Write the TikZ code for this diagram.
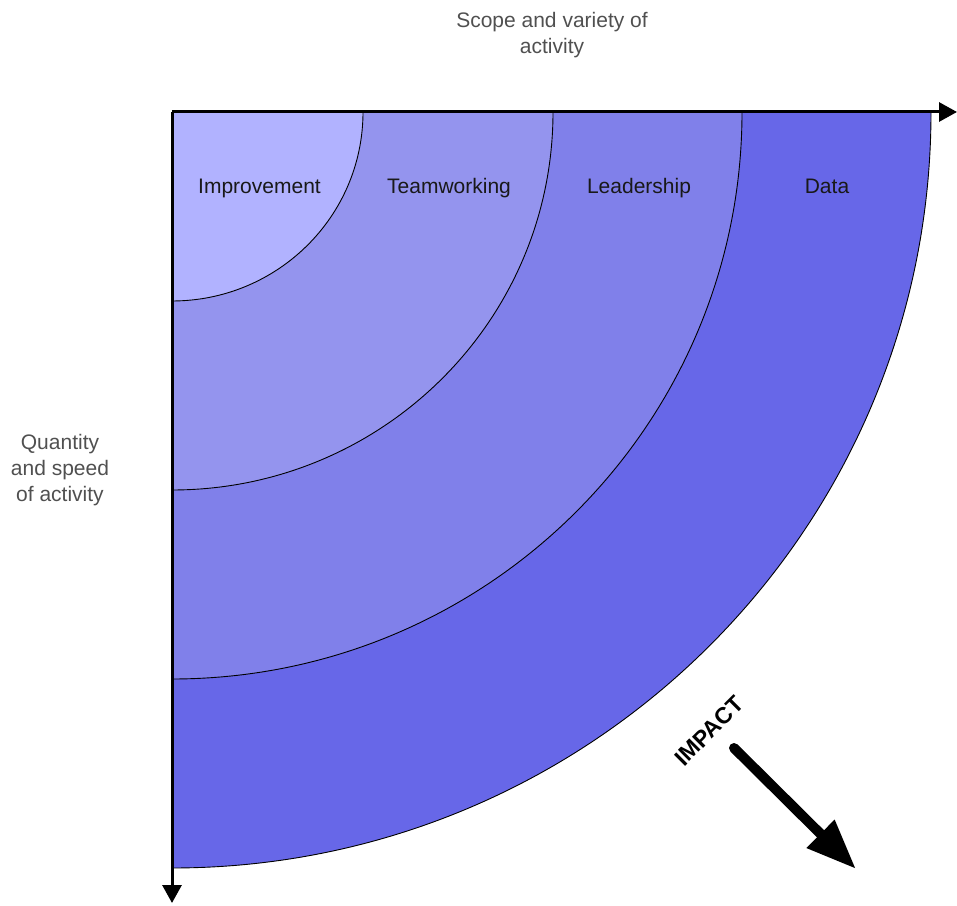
\documentclass[tikz,border=0pt]{standalone}
\usepackage{fontspec}
\setmainfont{Liberation Sans}
\usetikzlibrary{arrows.meta}
\definecolor{cA}{RGB}{177,178,255}
\definecolor{cB}{RGB}{148,148,238}
\definecolor{cC}{RGB}{128,128,234}
\definecolor{cD}{RGB}{103,103,232}
\definecolor{axtext}{RGB}{80,80,80}
\definecolor{regtext}{RGB}{25,25,25}
\tikzset{
  band/.style={draw=black, line width=0.9pt},
  axisline/.style={draw=black, line width=3pt, -{Triangle[length=18pt,width=19pt]}},
  axislabel/.style={font=\fontsize{21}{26}\selectfont, text=axtext, align=center, inner sep=0pt},
  reglabel/.style={font=\fontsize{21}{26}\selectfont, text=regtext, inner sep=0pt, anchor=base},
  impactlabel/.style={font=\fontsize{23}{28}\selectfont\bfseries, text=black, rotate=45, inner sep=0pt},
  impactarrow/.style={draw=black, line width=10pt, line cap=round, -{Triangle[length=50pt,width=37pt]}}
}
\begin{document}
\begin{tikzpicture}[x=1pt,y=1pt]
\useasboundingbox (0,0) rectangle (957,905);
\coordinate (O) at (172,793);
\fill[cD] (O) -- ++(759,0) arc[start angle=0,end angle=-90,x radius=759,y radius=756] -- cycle;
\draw[band] (172+759,793) arc[start angle=0,end angle=-90,x radius=759,y radius=756];
\fill[cC] (O) -- ++(570,0) arc[start angle=0,end angle=-90,x radius=570,y radius=567] -- cycle;
\draw[band] (172+570,793) arc[start angle=0,end angle=-90,x radius=570,y radius=567];
\fill[cB] (O) -- ++(381,0) arc[start angle=0,end angle=-90,x radius=381,y radius=378] -- cycle;
\draw[band] (172+381,793) arc[start angle=0,end angle=-90,x radius=381,y radius=378];
\fill[cA] (O) -- ++(191,0) arc[start angle=0,end angle=-90,x radius=191,y radius=189] -- cycle;
\draw[band] (172+191,793) arc[start angle=0,end angle=-90,x radius=191,y radius=189];
\coordinate (xend) at (957,793);
\coordinate (yend) at (172,2);
\draw[axisline] (O) -- (xend);
\draw[axisline] (O) -- (yend);
\node[axislabel] (scope) at (552,870) {Scope and variety of\\activity};
\node[axislabel] (quant) at (60,435) {Quantity\\and speed\\of activity};
\node[reglabel] (impr) at (259.5,711) {Improvement};
\node[reglabel] (team) at (449,711) {Teamworking};
\node[reglabel] (lead) at (639,711) {Leadership};
\node[reglabel] (data) at (827,711) {Data};
\node[impactlabel] (impact) at (709,174) {IMPACT};
\coordinate (iastart) at (734,157);
\coordinate (iaend) at (856,36);
\draw[impactarrow] (iastart) -- (iaend);
\end{tikzpicture}
\end{document}
